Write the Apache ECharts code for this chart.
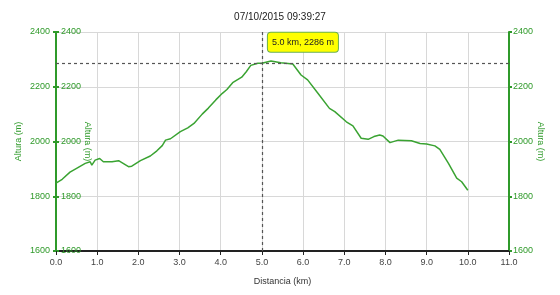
<!DOCTYPE html>
<html>
<head>
<meta charset="utf-8">
<script src="https://cdn.jsdelivr.net/npm/echarts@6/dist/echarts.min.js"></script>
<style>
  html, body { margin: 0; padding: 0; background: #fff; }
  #chart { width: 560px; height: 295px; }
</style>
</head>
<body>
<div id="chart"></div>
<script>
// perfil de altura (km, m)
const dist = [0.0, 0.15, 0.34, 0.5, 0.71, 0.83, 0.87, 0.95, 1.06, 1.15, 1.36, 1.52, 1.60, 1.76, 1.84, 2.05, 2.29, 2.45, 2.58, 2.66, 2.78, 3.02, 3.2, 3.35, 3.55, 3.7, 3.88, 4.04, 4.15, 4.29, 4.51, 4.62, 4.73, 4.90, 5.0, 5.22, 5.46, 5.75, 5.95, 6.11, 6.36, 6.64, 6.77, 7.05, 7.21, 7.41, 7.58, 7.72, 7.86, 7.94, 8.11, 8.31, 8.63, 8.84, 9.0, 9.20, 9.32, 9.53, 9.73, 9.85, 10.0];
const alt = [1848, 1862, 1888, 1902, 1920, 1926, 1914, 1932, 1938, 1926, 1926, 1930, 1923, 1908, 1910, 1930, 1947, 1966, 1985, 2005, 2010, 2036, 2050, 2066, 2100, 2122, 2152, 2176, 2190, 2215, 2235, 2255, 2278, 2286, 2286, 2294, 2288, 2283, 2243, 2225, 2176, 2121, 2109, 2072, 2057, 2012, 2008, 2018, 2024, 2020, 1996, 2005, 2003, 1993, 1991, 1984, 1971, 1920, 1866, 1853, 1822];
const cursorKm = 5.0;
const cursorAlt = 2286;
const titleText = '07/10/2015 09:39:27';

const green = '#2f9a2a';
const font = 'Liberation Sans';

const chart = echarts.init(document.getElementById('chart'));

function yAxisBase(pos, inside) {
  return {
    type: 'value',
    position: pos,
    min: 1600, max: 2400, interval: 200,
    axisLine: { show: true, lineStyle: { color: green, width: 2 } },
    axisTick: { show: true, inside: inside, length: 3, lineStyle: { color: green, width: 2 } },
    axisLabel: { inside: inside, color: green, fontSize: 9, fontFamily: font, margin: inside ? 5 : 6, formatter: v => String(v) },
    splitLine: { show: false },
    name: 'Altura (m)',
    nameLocation: 'middle',
    nameMoveOverlap: false,
    nameTextStyle: { color: green, fontSize: 9, fontFamily: font }
  };
}

const yLeft = yAxisBase('left', false);
yLeft.nameGap = 33;
yLeft.splitLine = { show: true, lineStyle: { color: '#d8d8d8', width: 1 } };

const yInner = yAxisBase('left', true);
yInner.nameGap = -36;
yInner.nameRotate = -90;

const yRight = yAxisBase('right', false);
yRight.nameGap = 27;
yRight.nameRotate = -90;
yRight.axisLabel.margin = 4;

chart.setOption({
  animation: false,
  title: {
    text: titleText,
    left: 'center',
    top: 7,
    textStyle: { fontSize: 10, fontWeight: 'normal', color: '#222', fontFamily: font }
  },
  grid: { left: 56, right: 51, top: 32, bottom: 44 },
  xAxis: {
    type: 'value',
    min: 0, max: 11, interval: 1,
    name: 'Distancia (km)',
    nameLocation: 'middle',
    nameGap: 26,
    nameTextStyle: { color: '#333', fontSize: 9, fontFamily: font },
    axisLine: { lineStyle: { color: '#222', width: 2 } },
    axisTick: { show: true, length: 4, lineStyle: { color: '#222' } },
    axisLabel: { color: '#444', fontSize: 9, fontFamily: font, margin: 7, formatter: v => v.toFixed(1) },
    splitLine: { show: true, lineStyle: { color: '#d8d8d8', width: 1 } }
  },
  yAxis: [yLeft, yInner, yRight],
  series: [{
    type: 'line',
    yAxisIndex: 0,
    data: dist.map((d, i) => [d, alt[i]]),
    showSymbol: false,
    lineStyle: { color: '#3aa332', width: 1.5 },
    markLine: {
      silent: true,
      symbol: 'none',
      label: { show: false },
      lineStyle: { color: '#555', type: [3, 3], width: 1.2 },
      data: [{ xAxis: cursorKm }, { yAxis: cursorAlt }]
    },
    markPoint: {
      silent: true,
      symbol: 'circle',
      symbolSize: 1,
      itemStyle: { color: green },
      data: [{
        coord: [cursorKm, cursorAlt],
        label: {
          show: true,
          position: 'inside',
          offset: [41, -21],
          formatter: cursorKm.toFixed(1) + ' km, ' + cursorAlt + ' m',
          color: '#222',
          fontSize: 9,
          fontFamily: font,
          backgroundColor: '#ffff00',
          borderColor: '#6ab04c',
          borderWidth: 1,
          borderRadius: 3,
          padding: [5, 4]
        }
      }]
    }
  }]
});
</script>
</body>
</html>
